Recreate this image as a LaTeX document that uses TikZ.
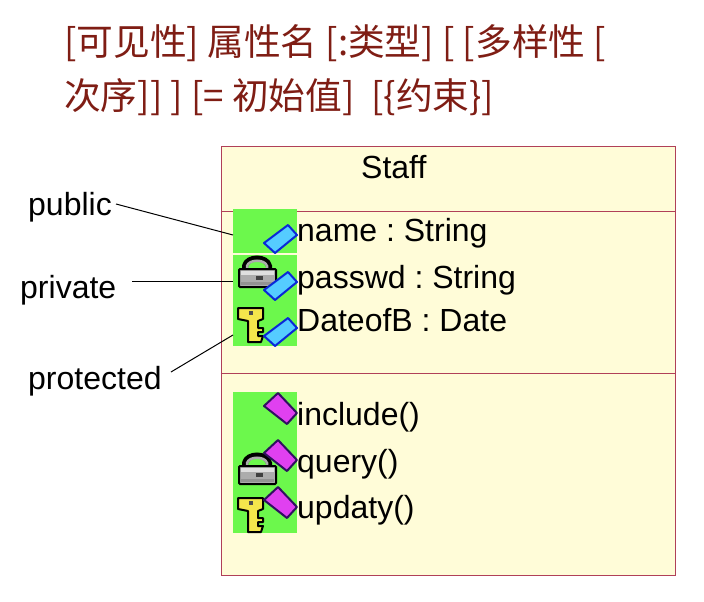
\documentclass[tikz,border=0pt]{standalone}
\usepackage{fontspec}
\setmainfont{Liberation Sans}
\newfontfamily\cjk{Noto Sans CJK SC}
\definecolor{titlered}{HTML}{7F1D14}
\definecolor{boxline}{HTML}{B04058}
\definecolor{boxfill}{HTML}{FFFCD8}
\definecolor{icongreen}{HTML}{6CF84C}
\definecolor{attrfill}{HTML}{55CCFF}
\definecolor{attrline}{HTML}{0A28D8}
\definecolor{operfill}{HTML}{E040F0}
\definecolor{operline}{HTML}{301060}
\definecolor{keyfill}{HTML}{F4E64C}
\tikzset{
  titletext/.style={anchor=base west,inner sep=0pt,text=titlered,font=\cjk\fontsize{36.7}{36.7}\selectfont},
  umltext/.style={anchor=base west,inner sep=0pt,font=\frenchspacing\fontsize{32}{32}\selectfont},
  note/.style={anchor=base west,inner sep=0pt,font=\fontsize{32}{32}\selectfont},
  conn/.style={draw=black,line width=1pt},
  sep/.style={draw=boxline,line width=0.7pt},
  pics/attr/.style={code={
    \draw[line width=2pt,line join=round,draw=attrline,fill=attrfill] (-33,8) -- (-9,-10) -- (0,0) -- (-22,18) -- cycle;
  }},
  pics/oper/.style={code={
    \draw[line width=2pt,line join=round,draw=operline,fill=operfill] (-33,-7) -- (-19,-20) -- (0,0) -- (-10,11) -- cycle;
  }},
  pics/lock/.style={code={
    \draw[line width=6pt,draw=black] (7,15) -- (7,11) .. controls (9,1) and (29,1) .. (31,11) -- (31,15);
    \draw[line width=2.5pt,draw=gray!65] (9,14) -- (9,11) .. controls (11,4) and (27,4) .. (29,11) -- (29,14);
    \draw[line width=2pt,draw=black,fill=gray!65,rounded corners=1pt] (1,14) rectangle (38,32);
    \fill[gray!25] (3,16) rectangle (36,20);
    \fill[black!75] (18,21) rectangle (25,25);
    \fill[gray!85] (3,27) rectangle (36,30);
  }},
  pics/key/.style={code={
    \draw[line width=2pt,line join=round,draw=black,fill=keyfill]
      (0,1) -- (25,1) -- (25,12) -- (20,14) -- (20,21) -- (25,21) -- (25,25) -- (20,25) -- (20,29) -- (25,29)
      -- (23,35) -- (10,35) -- (10,14) -- (0,12) -- cycle;
    \fill[black!70] (11,4) rectangle (15,8);
  }}
}
\begin{document}
\begin{tikzpicture}[x=1pt,y=-1pt]
\useasboundingbox (0,0) rectangle (704,602);
\fill[white] (0,0) rectangle (704,602);
\node[titletext] (t1) at (64,56) {[可见性] 属性名 [:类型] [ [多样性 [};
\node[titletext] (t2) at (64,110) {次序]] ] [= 初始值]\ \ [\{约束\}]};
\node[draw=boxline,fill=boxfill,line width=0.7pt,minimum width=454pt,minimum height=429pt,inner sep=0pt,anchor=north west] (box) at (220.7,146.3) {};
\coordinate (s1l) at (220.7,211.2); \coordinate (s1r) at (674.7,211.2);
\coordinate (s2l) at (220.7,373.2); \coordinate (s2r) at (674.7,373.2);
\draw[sep] (s1l) -- (s1r);
\draw[sep] (s2l) -- (s2r);
\node[umltext] (staff) at (361,178) {Staff};
\node[fill=icongreen,inner sep=0pt,minimum width=64pt,minimum height=44pt,anchor=north west] (g1) at (233,209) {};
\node[fill=icongreen,inner sep=0pt,minimum width=64pt,minimum height=91pt,anchor=north west] (g2) at (233,255) {};
\node[fill=icongreen,inner sep=0pt,minimum width=64pt,minimum height=141pt,anchor=north west] (g3) at (233,392) {};
\pic at (238,255) {lock};
\pic at (238,307) {key};
\pic at (297,235) {attr};
\pic at (297,282) {attr};
\pic at (297,328) {attr};
\pic at (238,452) {lock};
\pic at (238,497) {key};
\pic at (297,413) {oper};
\pic at (297,460) {oper};
\pic at (297,507) {oper};
\node[umltext] (a1) at (297,241) {name : String};
\node[umltext] (a2) at (297,288) {passwd : String};
\node[umltext] (a3) at (297,331) {DateofB : Date};
\node[umltext] (o1) at (297,425) {include()};
\node[umltext] (o2) at (297,472) {query()};
\node[umltext] (o3) at (297,518) {updaty()};
\node[note] (pub) at (28,215) {public};
\node[note] (pri) at (20,298) {private};
\node[note] (pro) at (28,389) {protected};
\coordinate (c1a) at (116,204); \coordinate (c1b) at (233,235);
\coordinate (c2a) at (132,281); \coordinate (c2b) at (233,281);
\coordinate (c3a) at (171,372); \coordinate (c3b) at (233,335);
\draw[conn] (c1a) -- (c1b);
\draw[conn] (c2a) -- (c2b);
\draw[conn] (c3a) -- (c3b);
\end{tikzpicture}
\end{document}
